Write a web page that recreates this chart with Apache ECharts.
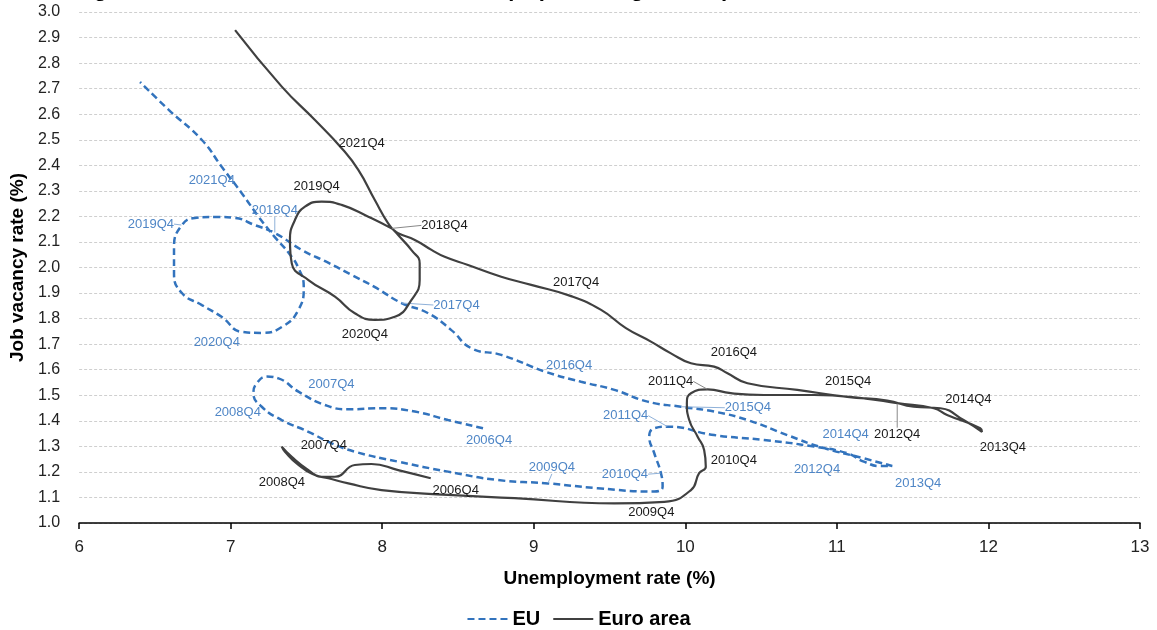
<!DOCTYPE html>
<html>
<head>
<meta charset="utf-8">
<script src="https://cdn.jsdelivr.net/npm/echarts/dist/echarts.min.js"></script>
<style>
  html, body { margin: 0; padding: 0; background: #ffffff; }
  #chart { width: 1157px; height: 630px; }
</style>
</head>
<body>
<div id="chart"></div>
<script>
// Beveridge curve: unemployment rate (x) against job vacancy rate (y), quarterly path.

// EU
const euUnemployment = [8.665, 8.434, 8.215, 7.995, 7.776, 7.622, 7.447, 7.315, 7.238, 7.172, 7.150, 7.205, 7.337, 7.513, 7.666, 7.819, 8.105, 8.434, 8.764, 9.093, 9.422, 9.795, 9.850, 9.839, 9.795, 9.762, 9.795, 9.883, 10.190, 10.519, 10.849, 11.068, 11.178, 11.288, 11.365, 11.178, 10.893, 10.673, 10.410, 10.190, 9.971, 9.751, 9.532, 9.312, 9.082, 8.785, 8.588, 8.456, 8.303, 8.127, 7.949, 7.798, 7.646, 7.468, 7.291, 7.159, 7.027, 6.896, 6.764, 6.678, 6.626, 6.626, 6.678, 6.810, 6.942, 7.073, 7.205, 7.337, 7.447, 7.482, 7.447, 7.383, 7.291, 7.185, 7.073, 6.942, 6.810, 6.593, 6.402];
const euVacancy = [1.371, 1.403, 1.436, 1.449, 1.445, 1.462, 1.514, 1.566, 1.573, 1.547, 1.508, 1.455, 1.403, 1.357, 1.312, 1.279, 1.240, 1.201, 1.168, 1.155, 1.136, 1.123, 1.142, 1.195, 1.273, 1.338, 1.371, 1.377, 1.344, 1.325, 1.299, 1.273, 1.240, 1.223, 1.223, 1.253, 1.297, 1.344, 1.403, 1.436, 1.455, 1.475, 1.521, 1.553, 1.591, 1.658, 1.684, 1.755, 1.821, 1.861, 1.924, 1.971, 2.018, 2.069, 2.135, 2.166, 2.194, 2.198, 2.194, 2.166, 2.080, 1.978, 1.900, 1.853, 1.806, 1.748, 1.744, 1.767, 1.834, 1.924, 1.998, 2.057, 2.119, 2.198, 2.291, 2.393, 2.499, 2.616, 2.726];
const euQuarter = ['2006Q4', '', '', '', '', '', '2007Q4', '', '', '', '', '2008Q4', '', '', '', '', '', '', '', '2009Q4', '', '', '', '2010Q4', '', '', '', '2011Q4', '', '', '2012Q4', '', '', '', '2013Q4', '', '2014Q4', '', '', '', '2015Q4', '', '', '2016Q4', '', '', '', '', '', '2017Q4', '', '', '', '', '2018Q4', '', '', '', '', '2019Q4', '', '', '', '', '', '2020Q4', '', '', '', '', '', '', '', '', '2021Q4', '', '', '', ''];

// Euro area
const eaUnemployment = [8.320, 8.105, 7.929, 7.819, 7.688, 7.600, 7.513, 7.403, 7.337, 7.358, 7.447, 7.556, 7.644, 7.776, 7.995, 8.434, 8.873, 9.532, 9.861, 10.037, 10.091, 10.135, 10.124, 10.081, 10.025, 10.010, 10.037, 10.147, 10.300, 10.519, 10.849, 11.178, 11.398, 11.639, 11.727, 11.946, 11.957, 11.836, 11.683, 11.507, 11.332, 11.068, 10.739, 10.410, 10.278, 10.190, 10.037, 9.905, 9.773, 9.608, 9.444, 9.246, 8.983, 8.785, 8.566, 8.412, 8.325, 8.215, 8.105, 8.061, 7.908, 7.732, 7.600, 7.490, 7.424, 7.391, 7.403, 7.513, 7.688, 7.819, 7.951, 8.083, 8.193, 8.247, 8.247, 8.193, 8.105, 8.039, 7.951, 7.842, 7.732, 7.556, 7.337, 7.029];
const eaVacancy = [1.175, 1.207, 1.231, 1.227, 1.181, 1.181, 1.207, 1.259, 1.299, 1.279, 1.227, 1.188, 1.175, 1.155, 1.129, 1.110, 1.097, 1.077, 1.083, 1.129, 1.195, 1.220, 1.286, 1.338, 1.404, 1.469, 1.508, 1.523, 1.508, 1.501, 1.501, 1.488, 1.469, 1.449, 1.423, 1.371, 1.357, 1.403, 1.449, 1.455, 1.479, 1.494, 1.521, 1.547, 1.586, 1.612, 1.625, 1.664, 1.710, 1.763, 1.834, 1.888, 1.932, 1.964, 2.010, 2.042, 2.069, 2.108, 2.134, 2.153, 2.199, 2.245, 2.258, 2.238, 2.186, 2.108, 2.016, 1.951, 1.886, 1.821, 1.795, 1.807, 1.873, 1.951, 2.016, 2.068, 2.127, 2.173, 2.264, 2.382, 2.467, 2.577, 2.708, 2.929];
const eaQuarter = ['2006Q4', '', '', '', '', '', '', '', '2007Q4', '', '', '2008Q4', '', '', '', '', '', '', '2009Q4', '', '', '2010Q4', '', '', '', '', '', '2011Q4', '', '', '', '', '2012Q4', '', '', '', '2013Q4', '', '2014Q4', '', '', '2015Q4', '', '', '', '', '2016Q4', '', '', '', '', '2017Q4', '', '', '', '', '', '', '', '2018Q4', '', '', '2019Q4', '', '', '', '', '', '', '', '2020Q4', '', '', '', '', '', '', '', '', '', '2021Q4', '', '', ''];

const xTicks = { min: 6, max: 13, step: 1 };
const yTicks = { min: 1.0, max: 3.0, step: 0.1 };

// Label offsets (pixels from the point) and which labels get a guide line
const euLabelOffset = {
  '2006Q4': [6, 12], '2007Q4': [33, -7], '2008Q4': [-24, 6], '2009Q4': [4, -16],
  '2010Q4': [-36, 1], '2011Q4': [-42, -11], '2012Q4': [3, 23], '2013Q4': [26, 17],
  '2014Q4': [25, -13], '2015Q4': [67, 1], '2016Q4': [-12, -16], '2017Q4': [55, 2],
  '2018Q4': [0, -23], '2019Q4': [-31, -1], '2020Q4': [-25, 11], '2021Q4': [-30, -13]
};
const euGuide = ['2009Q4', '2010Q4', '2011Q4', '2015Q4', '2017Q4', '2018Q4', '2019Q4'];
const eaLabelOffset = {
  '2006Q4': [25, 12], '2007Q4': [42, -1], '2008Q4': [-33, 7], '2009Q4': [-13, 11],
  '2010Q4': [28, -6], '2011Q4': [-37, -8], '2012Q4': [0, 31], '2013Q4': [21, 16],
  '2014Q4': [28, -9], '2015Q4': [1, -15], '2016Q4': [43, -11], '2017Q4': [5, -14],
  '2018Q4': [53, -3], '2019Q4': [-5, -15], '2020Q4': [-10, 15], '2021Q4': [20, -5]
};
const eaGuide = ['2011Q4', '2012Q4', '2018Q4'];

const FONT = 'Liberation Sans, Arial, sans-serif';
const EU_BLUE = '#3273bd';
const EU_LABEL = '#4f86c6';
const EA_GREY = '#404040';
const EA_LABEL = '#1a1a1a';
const HIDDEN = 'rgba(0,0,0,0)';

function buildData(us, vs, qs, labelColor, guides, guideColor) {
  return us.map(function (u, i) {
    const q = qs[i];
    const item = { value: [u, vs[i]], name: q };
    if (q) {
      item.label = { show: true, color: labelColor };
      if (guides.indexOf(q) >= 0) {
        item.labelLine = { show: true, lineStyle: { color: guideColor, width: 1 } };
      }
    }
    return item;
  });
}

function layoutFor(offsets) {
  return function (params) {
    const o = offsets[params.text];
    if (!o) return {};
    return { dx: o[0], dy: o[1] };
  };
}

const baseLabel = {
  show: false,
  position: 'inside',
  formatter: '{b}',
  fontFamily: FONT,
  fontSize: 13
};

const chart = echarts.init(document.getElementById('chart'), null, { renderer: 'canvas' });

chart.setOption({
  animation: false,
  backgroundColor: '#ffffff',
  title: {
    text: 'Beveridge curve, EU and euro area, 2006–2021 (in percentage terms)',
    left: 8,
    top: -26,
    textStyle: { fontFamily: FONT, fontSize: 22, fontWeight: 'bold', color: '#000' }
  },
  grid: { left: 77, right: 17, top: 12, bottom: 107, containLabel: false },
  legend: {
    top: 604,
    left: 'center',
    itemWidth: 40,
    itemHeight: 10,
    itemGap: 12,
    data: ['EU', 'Euro area'],
    textStyle: { fontFamily: FONT, fontSize: 20, fontWeight: 'bold', color: '#000' }
  },
  xAxis: {
    type: 'value',
    min: xTicks.min,
    max: xTicks.max,
    interval: xTicks.step,
    name: 'Unemployment rate (%)',
    nameLocation: 'middle',
    nameGap: 46,
    nameTextStyle: { fontFamily: FONT, fontSize: 19, fontWeight: 'bold', color: '#000' },
    axisLine: { show: true, lineStyle: { color: '#000', width: 1.5 } },
    axisTick: { show: true, length: 6, lineStyle: { color: '#000', width: 1.5 } },
    axisLabel: { fontFamily: FONT, fontSize: 17, color: '#222', margin: 16 },
    splitLine: { show: false }
  },
  yAxis: {
    type: 'value',
    min: yTicks.min,
    max: yTicks.max,
    interval: yTicks.step,
    name: 'Job vacancy rate (%)',
    nameLocation: 'middle',
    nameGap: 44,
    nameRotate: 90,
    nameTextStyle: { fontFamily: FONT, fontSize: 19, fontWeight: 'bold', color: '#000' },
    axisLine: { show: false },
    axisTick: { show: false },
    axisLabel: {
      fontFamily: FONT, fontSize: 16, color: '#222', margin: 19,
      formatter: function (v) { return v.toFixed(1); }
    },
    splitLine: { show: true, lineStyle: { color: '#cfcfcf', width: 1, type: [3, 2] } }
  },
  series: [
    {
      name: 'EU',
      type: 'line',
      smooth: 0.5,
      symbol: 'circle',
      symbolSize: 1,
      showSymbol: true,
      itemStyle: { color: HIDDEN, borderColor: HIDDEN },
      lineStyle: { color: EU_BLUE, width: 2.5, type: [7, 4] },
      label: Object.assign({}, baseLabel, { color: EU_LABEL }),
      labelLine: { show: false, lineStyle: { color: '#8fb1d9', width: 1 } },
      labelLayout: layoutFor(euLabelOffset),
      data: buildData(euUnemployment, euVacancy, euQuarter, EU_LABEL, euGuide, '#8fb1d9'),
      z: 3
    },
    {
      name: 'Euro area',
      type: 'line',
      smooth: 0.5,
      symbol: 'circle',
      symbolSize: 1,
      showSymbol: true,
      itemStyle: { color: HIDDEN, borderColor: HIDDEN },
      lineStyle: { color: EA_GREY, width: 2.2 },
      label: Object.assign({}, baseLabel, { color: EA_LABEL }),
      labelLine: { show: false, lineStyle: { color: '#888', width: 1 } },
      labelLayout: layoutFor(eaLabelOffset),
      data: buildData(eaUnemployment, eaVacancy, eaQuarter, EA_LABEL, eaGuide, '#888'),
      z: 4
    }
  ]
});
</script>
</body>
</html>
